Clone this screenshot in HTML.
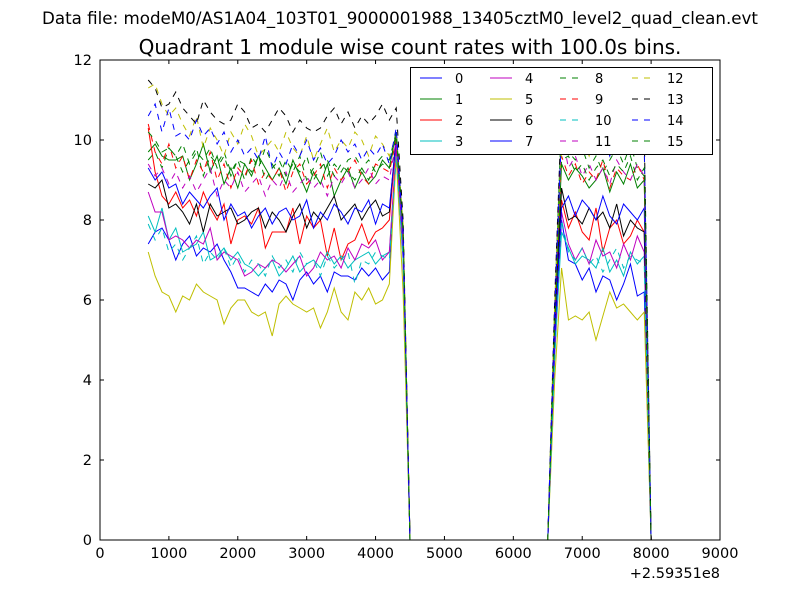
<!DOCTYPE html>
<html><head><meta charset="utf-8"><style>
body{margin:0;background:#fff;width:800px;height:600px;overflow:hidden}
svg{display:block;font-family:"DejaVu Sans","Liberation Sans",sans-serif}
</style></head><body>
<svg id="chart" width="800" height="600" viewBox="0 0 800 600" xmlns="http://www.w3.org/2000/svg">
<rect x="0" y="0" width="800" height="600" fill="#fff"/>
<text x="400" y="24" font-size="16.7" text-anchor="middle">Data file: modeM0/AS1A04_103T01_9000001988_13405cztM0_level2_quad_clean.evt</text>
<text x="410" y="54" font-size="20" text-anchor="middle">Quadrant 1 module wise count rates with 100.0s bins.</text>
<g id="plot"></g>
<g id="axes"></g>
<g id="legend"></g>
</svg>
<script>
const xTicks=[0,1000,2000,3000,4000,5000,6000,7000,8000,9000];
const yTicks=[0,2,4,6,8,10,12];
const segAStart=700, segBStart=6600;
const zerosMid=[0,0,0,0,0,0,0,0,0,0,0,0,0,0,0,0,0,0,0,0,0];
const lastVal=[0];
const colors=['#0000ff','#008000','#ff0000','#00bfbf','#bf00bf','#bfbf00','#000000','#0000ff','#008000','#ff0000','#00bfbf','#bf00bf','#bfbf00','#000000','#0000ff','#008000'];
const labels=['0','1','2','3','4','5','6','7','8','9','10','11','12','13','14','15'];
const segA=[
[7.4,7.7,7.8,7.5,7.0,7.4,7.6,7.1,7.3,7.2,7.4,7.0,6.7,6.3,6.3,6.2,6.1,6.4,6.2,6.5,6.4,6.0,6.5,6.7,6.4,6.6,6.2,6.7,6.6,6.6,6.5,6.8,6.6,6.8,6.5,6.7,9.8,7.0],
[9.7,9.9,9.6,9.5,9.5,9.6,9.0,9.4,9.9,9.2,9.6,8.9,9.3,8.8,9.4,9.1,9.6,9.3,9.0,9.3,8.9,9.5,9.1,8.7,9.2,8.9,9.4,8.6,9.0,9.3,8.8,9.2,8.9,9.1,9.5,9.3,10.2,7.8],
[10.3,9.2,8.6,8.4,8.7,8.3,8.5,8.1,8.7,8.3,8.0,8.4,7.4,8.0,8.1,7.9,8.3,7.3,7.7,7.7,7.7,8.3,7.4,8.1,7.8,8.0,7.1,7.8,7.0,7.4,7.5,7.9,7.4,7.7,7.8,8.0,10.0,7.5],
[8.1,7.7,8.3,7.5,7.8,7.2,7.3,7.4,7.7,7.0,7.1,7.3,7.0,7.2,6.9,6.8,6.6,6.8,7.0,6.6,6.8,7.1,6.7,6.9,7.0,6.8,7.2,6.9,7.1,6.8,7.0,7.1,7.2,6.9,7.1,7.2,9.6,7.2],
[8.7,8.2,8.2,7.5,7.6,7.5,7.3,7.5,7.4,7.8,7.0,7.2,7.1,7.0,6.6,6.7,6.9,6.8,7.0,6.9,6.7,6.9,7.1,6.6,6.8,7.2,7.0,7.1,6.8,7.3,7.0,7.4,7.3,7.5,7.0,7.2,9.8,7.3],
[7.2,6.6,6.2,6.1,5.7,6.1,6.0,6.4,6.2,6.1,6.0,5.4,5.8,6.0,6.0,5.7,5.6,5.7,5.1,5.9,6.1,5.9,5.8,5.7,5.8,5.3,5.7,6.3,5.7,5.5,6.2,6.0,6.3,5.9,6.0,6.4,9.6,6.2],
[8.9,8.8,9.0,8.3,8.4,8.2,7.9,8.4,7.7,8.4,8.1,8.2,8.3,7.9,8.0,8.2,8.3,7.8,8.2,8.0,7.7,8.1,8.4,7.8,8.2,8.0,8.3,8.6,8.0,8.2,8.4,8.0,8.3,8.5,8.1,8.2,10.1,7.8],
[9.3,9.0,9.2,8.8,8.9,8.4,8.7,8.5,8.3,8.6,8.8,8.0,8.4,8.1,8.2,7.8,8.1,8.3,7.9,8.2,8.3,8.0,8.1,8.5,7.8,8.2,8.0,8.4,8.2,7.9,8.3,8.2,8.5,7.9,8.4,8.3,10.0,7.6],
[9.5,9.7,9.3,9.8,9.6,9.2,9.5,9.8,9.1,9.6,9.4,9.7,9.2,9.5,9.0,9.6,9.3,9.8,9.4,9.1,9.5,9.2,9.6,9.0,9.3,9.7,9.1,9.4,9.2,9.5,9.6,9.3,9.0,9.4,9.6,9.5,10.2,7.7],
[10.4,9.7,9.4,9.9,9.3,9.6,9.0,9.5,9.2,9.7,9.0,9.4,8.8,9.3,9.1,9.5,8.9,9.2,9.0,9.3,8.7,9.2,9.4,8.9,9.1,9.4,8.8,9.3,9.0,9.2,9.5,9.1,8.9,9.4,9.3,9.2,10.0,7.8],
[7.9,7.5,7.8,7.2,7.4,7.0,7.3,7.6,6.9,7.2,7.0,7.3,6.8,7.1,6.7,7.0,6.9,6.6,7.1,6.8,7.0,6.7,7.2,6.9,7.0,6.6,7.1,6.8,7.0,7.2,6.4,7.0,6.9,7.2,7.1,7.0,9.6,7.0],
[9.4,9.1,9.3,8.9,9.2,8.8,9.1,8.7,9.0,9.3,8.6,9.0,8.8,9.2,8.7,8.9,9.1,8.6,9.0,8.8,9.2,8.7,8.9,9.1,8.8,9.0,8.6,9.1,8.9,9.2,8.8,9.0,9.3,8.9,9.1,9.0,10.0,7.6],
[11.3,11.4,10.9,10.6,10.8,10.4,10.1,10.6,9.8,10.3,10.0,9.6,10.2,9.9,10.4,10.1,9.6,9.8,10.0,9.7,10.2,9.8,9.6,10.1,9.5,9.9,10.3,9.7,10.0,9.8,10.2,10.0,9.6,10.1,9.9,9.6,10.1,7.9],
[11.5,11.3,10.8,10.9,11.2,10.8,10.6,10.4,11.0,10.7,10.5,10.4,10.5,10.9,10.7,10.3,10.4,10.2,10.5,10.8,10.6,10.2,10.5,10.3,10.2,10.3,10.6,10.8,10.4,10.7,10.3,10.6,10.4,10.6,10.9,10.5,10.8,8.0],
[10.6,10.9,10.2,10.8,10.1,10.2,10.0,10.5,10.1,10.3,9.9,10.2,9.7,10.0,9.6,9.8,9.5,10.1,9.3,9.7,9.4,9.9,9.6,10.0,9.5,9.8,9.4,9.6,10.0,9.7,9.9,9.5,9.8,9.6,9.9,9.4,10.3,7.7],
[10.2,10.0,9.7,9.8,9.6,9.9,9.4,9.7,9.5,9.8,9.3,9.6,9.1,9.5,9.4,9.2,9.6,9.0,9.3,9.5,9.1,9.4,9.2,9.6,9.0,9.3,9.5,9.1,9.4,9.2,9.0,9.3,9.5,9.2,9.4,9.3,10.1,7.7]
];
const segB=[
[4.8,8.0,7.0,6.9,6.5,6.8,6.2,6.6,6.5,6.0,6.4,6.9,6.1,6.2],
[5.5,9.4,9.0,9.3,9.1,8.8,9.0,9.3,8.7,9.2,8.9,9.4,8.8,9.0],
[5.0,8.5,7.8,8.2,7.7,7.5,8.3,7.2,7.8,8.0,7.4,7.6,8.0,7.7],
[4.6,7.7,7.3,6.9,7.1,7.0,6.8,7.3,6.7,7.0,6.6,7.2,6.9,7.1],
[4.7,8.2,7.4,7.0,7.3,6.9,7.5,7.1,7.2,6.8,7.4,7.0,7.6,7.2],
[4.0,6.8,5.5,5.6,5.5,5.7,5.0,5.6,6.2,5.8,5.9,5.7,5.5,5.7],
[5.2,8.8,8.0,8.1,7.9,8.3,8.0,8.2,7.8,8.4,7.6,8.0,7.8,7.7],
[5.0,8.3,8.6,8.1,8.5,8.3,8.0,8.6,8.1,7.9,8.4,8.2,8.0,8.3],
[5.8,10.6,9.7,9.5,9.8,9.3,9.6,9.2,9.5,9.8,9.4,9.9,9.3,9.1],
[5.4,9.6,9.1,9.4,8.9,9.2,9.0,9.5,8.8,9.3,9.1,9.0,9.4,9.0],
[4.5,8.0,7.2,7.0,7.3,6.9,7.1,6.7,7.0,7.3,6.8,7.1,7.0,6.9],
[5.6,10.2,9.3,9.6,9.1,9.4,9.0,9.3,8.9,9.5,9.2,9.0,9.4,9.1],
[5.9,9.8,10.2,9.9,10.1,9.6,10.3,9.8,10.0,9.7,10.2,9.9,10.1,9.8],
[6.0,10.8,10.5,10.3,10.6,10.2,10.5,10.4,10.7,10.1,10.4,10.8,10.3,10.2],
[5.7,10.2,9.8,10.0,9.7,10.3,9.9,10.1,9.6,10.4,9.8,10.5,9.7,9.9],
[5.3,9.5,9.6,9.2,9.4,9.0,9.3,9.5,9.1,9.4,9.2,9.6,9.0,9.3]
];
const NS='http://www.w3.org/2000/svg';
const L=100,R=720,T=60,B=540;
const xMin=0,xMax=9000,yMin=0,yMax=12;
function xs(v){return L+(v-xMin)/(xMax-xMin)*(R-L);}
function ys(v){return B-(v-yMin)/(yMax-yMin)*(B-T);}
function mk(tag,attrs,parent){const e=document.createElementNS(NS,tag);for(const k in attrs)e.setAttribute(k,attrs[k]);parent.appendChild(e);return e;}
const plot=document.getElementById('plot'),axes=document.getElementById('axes'),leg=document.getElementById('legend');
for(let s=0;s<segA.length;s++){
  const vals=segA[s].concat(zerosMid,segB[s],lastVal);
  let pts=[];
  for(let i=0;i<vals.length;i++){pts.push(xs(segAStart+i*100).toFixed(2)+','+ys(vals[i]).toFixed(2));}
  const a={points:pts.join(' '),fill:'none',stroke:colors[s],'stroke-width':1};
  if(s>=8)a['stroke-dasharray']='6,6';
  const pl=mk('polyline',a,plot);
  
  
}
const fr=mk('rect',{x:L,y:T,width:R-L,height:B-T,fill:'none',stroke:'#000','stroke-width':1},axes);


xTicks.forEach(v=>{
  const x=xs(v);
  mk('line',{x1:x,y1:B,x2:x,y2:B-4,stroke:'#000'},axes);
  mk('line',{x1:x,y1:T,x2:x,y2:T+4,stroke:'#000'},axes);
  const t=mk('text',{x:x,y:B+18,'font-size':14.5,'text-anchor':'middle'},axes);
  t.textContent=v;
  
  
});
yTicks.forEach(v=>{
  const y=ys(v);
  mk('line',{x1:L,y1:y,x2:L+4,y2:y,stroke:'#000'},axes);
  mk('line',{x1:R,y1:y,x2:R-4,y2:y,stroke:'#000'},axes);
  const t=mk('text',{x:L-8,y:y+5,'font-size':14.5,'text-anchor':'end'},axes);
  t.textContent=v;
  
  
});
const off=mk('text',{x:R,y:578,'font-size':14.5,'text-anchor':'end'},axes);
off.textContent='+2.59351e8';


const lb=mk('rect',{x:410.5,y:67.5,width:302,height:87,fill:'#fff',stroke:'#000','stroke-width':1},leg);


const colX=[420,490,560,632];
for(let s=0;s<labels.length;s++){
  const c=Math.floor(s/4),r=s%4;
  const y=78+r*21,x=colX[c];
  const g=mk('g',{},leg);
  
  
  const a={x1:x,y1:y,x2:x+22,y2:y,stroke:colors[s],'stroke-width':1};
  if(s>=8)a['stroke-dasharray']='6,6';
  mk('line',a,g);
  const t=mk('text',{x:x+35,y:y+5,'font-size':13},g);
  t.textContent=labels[s];
}
</script>
</body></html>
